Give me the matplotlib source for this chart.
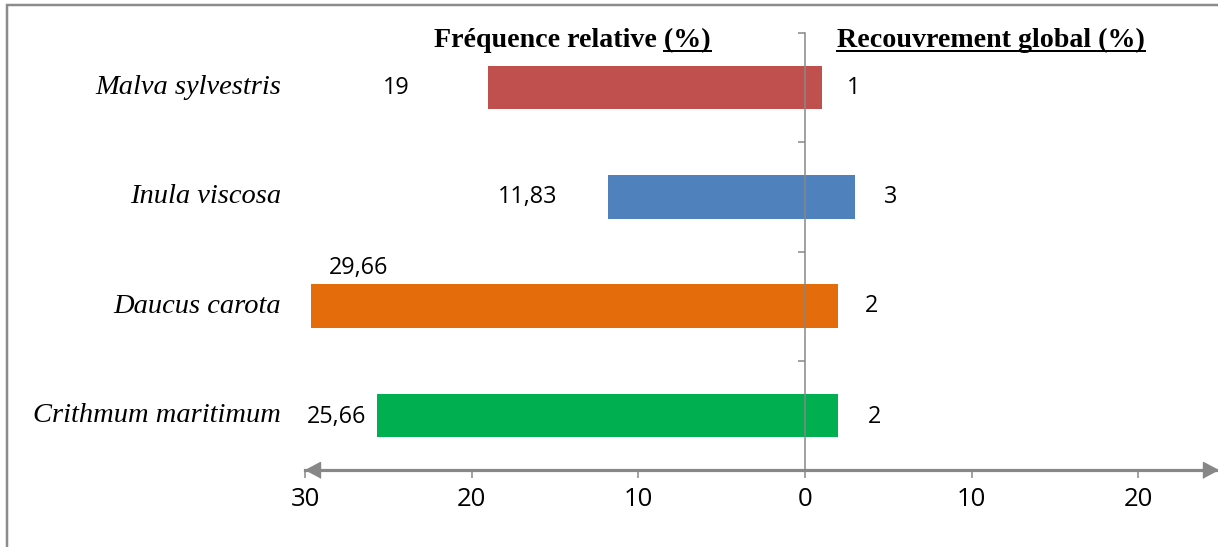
import matplotlib
matplotlib.use('Agg')
import matplotlib.pyplot as plt
from matplotlib.patches import Rectangle
from matplotlib.lines import Line2D

# ---------------- data ----------------
species = ['Crithmum maritimum', 'Daucus carota', 'Inula viscosa', 'Malva sylvestris']
freq_rel = [25.66, 29.66, 11.83, 19]          # Fréquence relative (%) -> left side
recouvrement = [2, 2, 3, 1]                  # Recouvrement global (%) -> right side
freq_labels = ['25,66', '29,66', '11,83', '19']
rec_labels = ['2', '2', '3', '1']
x_ticks = [-30, -20, -10, 0, 10, 20]
x_tick_labels = ['30', '20', '10', '0', '10', '20']
title_left = 'Fréquence relative (%)'
title_right = 'Recouvrement global (%)'

# ---------------- style ----------------
colors = ['#00B050', '#E46C0A', '#4F81BD', '#C0504D']
gray = '#878787'
# label offsets in pixels relative to bar ends (style only)
freq_label_off = [(-41, -2), (48, 38), (-80, 0), (-92, 0)]
rec_label_off = [(36, -2), (33, 0), (36, 0), (32, 0)]

W, H = 1218, 547
fig = plt.figure(figsize=(W / 100, H / 100), dpi=100)
ppx = 72 / 100  # points per pixel

ax = fig.add_axes([305 / W, 1 - 470 / H, 913.4 / W, 437 / H])
ax.set_xlim(-30, 24.8)
ax.set_ylim(-0.5, len(species) - 0.5)
ypos = list(range(len(species)))

ax.barh(ypos, [-v for v in freq_rel], height=0.40, color=colors, zorder=1)
ax.barh(ypos, recouvrement, height=0.40, color=colors, zorder=1)

for s in ['top', 'right']:
    ax.spines[s].set_visible(False)
ax.spines['left'].set_position(('data', 0))
ax.spines['left'].set_color(gray)
ax.spines['left'].set_linewidth(1.1)
ax.spines['left'].set_zorder(5)
ax.spines['bottom'].set_color(gray)
ax.spines['bottom'].set_linewidth(2.3)
ax.spines['bottom'].set_zorder(5)

ax.set_yticks([-0.5, 0.5, 1.5, 2.5, 3.5])
ax.set_yticklabels([])
ax.tick_params(axis='y', direction='out', length=7 * ppx, width=1.1, color=gray)

ax.set_xticks(x_ticks)
ax.set_xticklabels(x_tick_labels, fontsize=18.5, family='Open Sans')
ax.tick_params(axis='x', direction='out', length=8 * ppx, width=1.1, color=gray,
               pad=9 * ppx)

# arrow heads at both ends of x axis
xmin, xmax = ax.get_xlim()
left_arrow = [(0, 0), (1, 0.53), (1, -0.53)]
right_arrow = [(0, 0), (-1, 0.53), (-1, -0.53)]
ax.plot([xmin], [-0.5], marker=left_arrow, ms=21.6, color=gray, clip_on=False, zorder=6)
ax.plot([xmax], [-0.5], marker=right_arrow, ms=21.6, color=gray, clip_on=False, zorder=6)

# value labels
for i, y in enumerate(ypos):
    dx, dy = freq_label_off[i]
    ax.annotate(freq_labels[i], xy=(-freq_rel[i], y), xytext=(dx * ppx, dy * ppx),
                textcoords='offset points', ha='center', va='center',
                fontsize=16.8, family='Open Sans', color='black')
    dx, dy = rec_label_off[i]
    ax.annotate(rec_labels[i], xy=(recouvrement[i], y), xytext=(dx * ppx, dy * ppx),
                textcoords='offset points', ha='center', va='center',
                fontsize=16.8, family='Open Sans', color='black')

# species names
for i, y in enumerate(ypos):
    ax.annotate(species[i], xy=(0, y), xycoords=('axes fraction', 'data'),
                xytext=(-24 * ppx, 0), textcoords='offset points',
                ha='right', va='center', fontsize=20.5, family='Liberation Serif',
                style='italic', color='black')

# titles
tprops = dict(fontsize=20.2, weight='bold', family='Liberation Serif', va='baseline',
              color='black')
t1 = fig.text(434 / W, 1 - 47 / H, title_left, **tprops)
t2 = fig.text(837 / W, 1 - 47 / H, title_right, **tprops)

fig.canvas.draw()
r = fig.canvas.get_renderer()
bb1 = t1.get_window_extent(r)
bb2 = t2.get_window_extent(r)
tmp = fig.text(0, 0, '(%)', **tprops)
wpct = tmp.get_window_extent(r).width
tmp.remove()
uy = (H - 51) / H
fig.add_artist(Line2D([(bb1.x1 - wpct) / W, bb1.x1 / W], [uy, uy],
                      transform=fig.transFigure, color='black', lw=2 * ppx))
fig.add_artist(Line2D([bb2.x0 / W, bb2.x1 / W], [uy, uy],
                      transform=fig.transFigure, color='black', lw=2 * ppx))

# outer chart border (top and left visible)
fig.add_artist(Rectangle((7 / W, -0.1), 1.2, 1 - 5 / H + 0.1, transform=fig.transFigure,
                         fill=False, edgecolor='#8C8C8C', lw=2.5 * ppx))

fig.savefig('out.png', dpi=100)
